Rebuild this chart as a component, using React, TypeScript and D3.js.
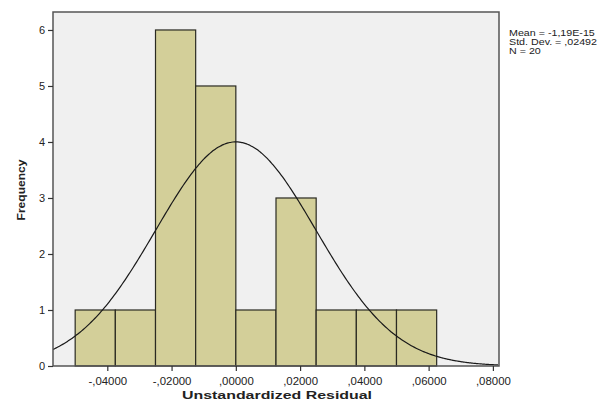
import React, { useEffect, useRef } from 'react';
import * as d3 from 'd3';

// histogram bins (lower edge) and counts, bin width 0.0125
const binStarts = [-0.05, -0.0375, -0.025, -0.0125, 0, 0.0125, 0.025, 0.0375, 0.05];
const binWidth = 0.0125;
const counts = [1, 1, 6, 5, 1, 3, 1, 1, 1];
const xTicks = [-0.04, -0.02, 0, 0.02, 0.04, 0.06, 0.08];
const yTicks = [0, 1, 2, 3, 4, 5, 6];
const statLines = ['Mean = -1,19E-15', 'Std. Dev. = ,02492', 'N = 20'];
const mean = 0;
const sd = 0.02492;
const n = 20;

const W = 600;
const H = 403;
const plot = { left: 53, top: 12, right: 499, bottom: 366 };
const font = '"Liberation Sans", Arial, sans-serif';

const fmtX = (v: number) => {
  const s = Math.abs(v).toFixed(5).replace('0.', ',');
  return (v < 0 ? '-' : '') + s;
};

// the original text is a bit wider than normal Arial
function stretch(sel: d3.Selection<any, any, any, any>, k: number) {
  sel.each(function () {
    const t = this as SVGTextElement;
    const len = t.getComputedTextLength();
    t.setAttribute('textLength', String(len * k));
    t.setAttribute('lengthAdjust', 'spacingAndGlyphs');
  });
}

export default function App() {
  const ref = useRef<SVGSVGElement>(null);

  useEffect(() => {
    const svg = d3.select(ref.current);
    svg.selectAll('*').remove();

    const x = d3.scaleLinear().domain([-0.0569, 0.0819]).range([plot.left, plot.right]);
    const y = d3.scaleLinear().domain([0, 6.321]).range([plot.bottom, plot.top]);

    svg.append('rect')
      .attr('x', plot.left).attr('y', plot.top)
      .attr('width', plot.right - plot.left).attr('height', plot.bottom - plot.top)
      .attr('fill', '#f0f0f0');

    svg.append('g').selectAll('rect')
      .data(counts)
      .join('rect')
      .attr('x', (_, i) => x(binStarts[i]))
      .attr('y', d => y(d))
      .attr('width', x(binWidth) - x(0))
      .attr('height', d => y(0) - y(d))
      .attr('fill', '#d3cf99')
      .attr('stroke', '#2a2a22')
      .attr('stroke-width', 1.2);

    // normal curve from the stated mean / std dev
    const xs = d3.range(-0.0569, 0.0819, 0.0005);
    const pdf = (v: number) => n * binWidth / (sd * Math.sqrt(2 * Math.PI)) * Math.exp(-0.5 * ((v - mean) / sd) ** 2);
    svg.append('path')
      .datum(xs)
      .attr('d', d3.line<number>().x(d => x(d)).y(d => y(pdf(d))).curve(d3.curveBasis))
      .attr('fill', 'none')
      .attr('stroke', '#1a1a1a')
      .attr('stroke-width', 1.2);

    // frame
    svg.append('rect')
      .attr('x', plot.left).attr('y', plot.top)
      .attr('width', plot.right - plot.left).attr('height', plot.bottom - plot.top)
      .attr('fill', 'none').attr('stroke', '#555').attr('stroke-width', 1.5);

    const xAxis = svg.append('g')
      .attr('transform', `translate(0,${plot.bottom})`)
      .call(d3.axisBottom(x).tickValues(xTicks).tickFormat(d => fmtX(+d)).tickSize(5));
    const yAxis = svg.append('g')
      .attr('transform', `translate(${plot.left},0)`)
      .call(d3.axisLeft(y).tickValues(yTicks).tickFormat(d3.format('d')).tickSize(5));

    [xAxis, yAxis].forEach(g => {
      g.select('.domain').remove();
      g.selectAll('line').attr('stroke', '#333').attr('stroke-width', 1.2);
      g.selectAll('text').attr('fill', '#222').style('font-family', font).style('font-size', '10px');
    });
    xAxis.selectAll('text').attr('dy', '1.05em');
    stretch(xAxis.selectAll('text'), 1.14);
    stretch(yAxis.selectAll('text'), 1.1);

    svg.append('text')
      .attr('x', 277).attr('y', 399)
      .attr('text-anchor', 'middle')
      .attr('textLength', 190).attr('lengthAdjust', 'spacingAndGlyphs')
      .style('font-family', font).style('font-size', '11.5px').style('font-weight', 'bold')
      .attr('fill', '#222')
      .text('Unstandardized Residual');

    svg.append('text')
      .attr('transform', 'translate(25,190) rotate(-90)')
      .attr('text-anchor', 'middle')
      .attr('textLength', 61).attr('lengthAdjust', 'spacingAndGlyphs')
      .style('font-family', font).style('font-size', '11.5px').style('font-weight', 'bold')
      .attr('fill', '#222')
      .text('Frequency');

    const stats = svg.append('g').selectAll('text')
      .data(statLines)
      .join('text')
      .attr('x', 509)
      .attr('y', (_, i) => 36 + i * 9)
      .style('font-family', font).style('font-size', '9px')
      .attr('fill', '#222')
      .text(d => d);
    // widest line is ~88px wide in the original
    const widest = d3.max(stats.nodes(), t => (t as SVGTextElement).getComputedTextLength()) || 88;
    stretch(stats, 88 / widest);
  }, []);

  return (
    <svg ref={ref} width={W} height={H}
      style={{ position: 'fixed', left: 0, top: 0, display: 'block', background: '#fff' }} />
  );
}
